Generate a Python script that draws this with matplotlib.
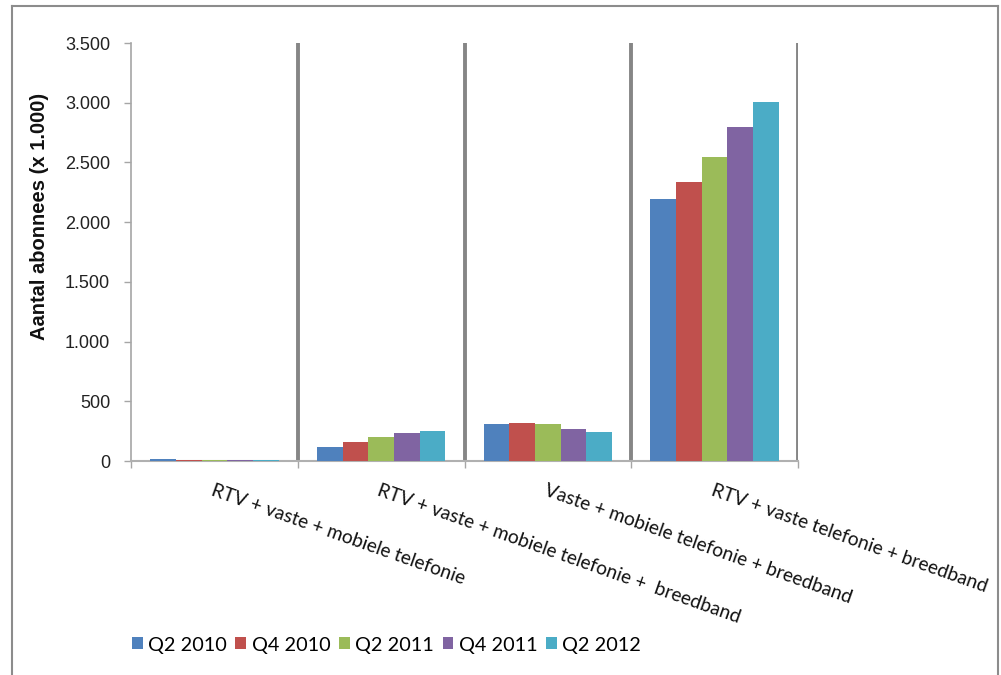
import matplotlib
matplotlib.use("Agg")
import matplotlib.pyplot as plt
import numpy as np
from matplotlib.ticker import FuncFormatter, FixedLocator
from matplotlib.lines import Line2D

categories = [
    "RTV + vaste + mobiele telefonie",
    "RTV + vaste + mobiele telefonie +  breedband",
    "Vaste + mobiele telefonie + breedband",
    "RTV + vaste telefonie + breedband",
]
series_names = ["Q2 2010", "Q4 2010", "Q2 2011", "Q4 2011", "Q2 2012"]
q2_2010 = [17, 120, 307, 2195]
q4_2010 = [8, 162, 315, 2340]
q2_2011 = [8, 204, 307, 2545]
q4_2011 = [8, 232, 265, 2795]
q2_2012 = [8, 254, 240, 3010]
series_values = [q2_2010, q4_2010, q2_2011, q4_2011, q2_2012]
colors = ["#4F81BD", "#C0504D", "#9BBB59", "#8064A2", "#4BACC6"]
y_ticks = [0, 500, 1000, 1500, 2000, 2500, 3000, 3500]

W, H = 1001, 675
fig = plt.figure(figsize=(W / 100, H / 100), dpi=100)
ax = fig.add_axes([131 / W, 1 - 461 / H, (798 - 131) / W, (461 - 43) / H])

x = np.arange(len(categories))
bar_w = 0.154
for i, (name, vals, col) in enumerate(zip(series_names, series_values, colors)):
    ax.bar(x + (i - 2) * bar_w, vals, width=bar_w, color=col, label=name,
           edgecolor="none", zorder=3)

ax.set_xlim(-0.5, len(categories) - 0.5)
ax.set_ylim(0, 3500)

# vertical separators between the categories
for b in np.arange(0.5, len(categories), 1.0):
    ax.axvline(b, color="#868686", linewidth=2.8, zorder=1)

# y axis
ax.yaxis.set_major_locator(FixedLocator(y_ticks))
ax.yaxis.set_major_formatter(FuncFormatter(lambda v, p: f"{int(v):,}".replace(",", ".")))
ax.tick_params(axis="y", length=5, width=1, color="#a6a6a6", labelsize=13,
               labelcolor="#222222", pad=10)
for lab in ax.get_yticklabels():
    lab.set_fontfamily("Liberation Sans")
fig.text(39.5 / W, 1 - 216 / H, "Aantal abonnees (x 1.000)", rotation=90,
         ha="center", va="center", fontsize=14.5, fontweight="bold",
         family="Liberation Sans", color="#111111")

# x axis: labels at category centres, ticks at the category boundaries
ax.set_xticks(x)
ax.set_xticklabels(categories, rotation=-19.5, ha="left", rotation_mode="anchor",
                   fontsize=13.8, family="Lato", color="#111111")
ax.tick_params(axis="x", which="major", length=0, pad=15)
ax.set_xticks(np.arange(-0.5, len(categories), 1.0), minor=True)
ax.tick_params(axis="x", which="minor", length=5, width=1, color="#a6a6a6")

for side in ["top", "right"]:
    ax.spines[side].set_visible(False)
ax.spines["left"].set_color("#a6a6a6")
ax.spines["left"].set_linewidth(1.2)
ax.spines["bottom"].set_color("#b0b0b0")
ax.spines["bottom"].set_linewidth(1.5)

leg = fig.legend(loc="center left", bbox_to_anchor=(118 / W, 1 - 645 / H),
                 ncol=5, frameon=False, handlelength=0.55, handleheight=0.55,
                 handletextpad=0.28, columnspacing=0.42, borderpad=0.2,
                 prop={"family": "Lato", "size": 14.3})

# outer chart border
bc = "#8c8c8c"
fig.add_artist(Line2D([12 / W, 12 / W], [0, 1 - 6 / H], color=bc, lw=1.5,
                      transform=fig.transFigure))
fig.add_artist(Line2D([12 / W, 998 / W], [1 - 6 / H, 1 - 6 / H], color=bc, lw=1.5,
                      transform=fig.transFigure))
fig.add_artist(Line2D([998 / W, 998 / W], [0, 1 - 6 / H], color=bc, lw=1.5,
                      transform=fig.transFigure))

fig.savefig("out.png", dpi=100, facecolor="white")
